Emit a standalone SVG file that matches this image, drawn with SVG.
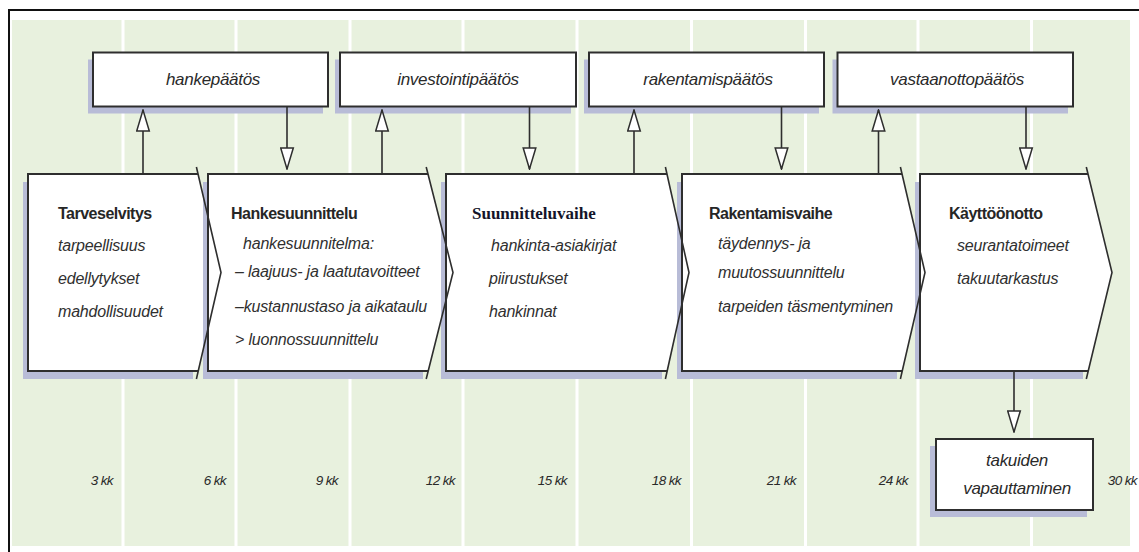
<svg xmlns="http://www.w3.org/2000/svg" width="1139" height="552" viewBox="0 0 1139 552">
  <defs>
    <marker id="hollow" viewBox="0 0 23 15" refX="22" refY="7.5" markerWidth="23" markerHeight="15" orient="auto" markerUnits="userSpaceOnUse">
      <path d="M1,1.2 L22,7.5 L1,13.8 Z" fill="#ffffff" stroke="#2e2e2e" stroke-width="1.5" stroke-linejoin="miter"/>
    </marker>
  </defs>
  <style>
    .bg { fill: #e8f1de; }
    .stripe { fill: #ffffff; }
    .frame { fill: none; stroke: #111111; stroke-width: 2; }
    .shadow { fill: #b8bcd7; }
    .box { fill: #ffffff; stroke: #2e2e2e; stroke-width: 2; }
    .fill { fill: #ffffff; }
    .edge { fill: none; stroke: #2e2e2e; stroke-width: 2; stroke-linejoin: miter; }
    .tipline { fill: none; stroke: #2e2e2e; stroke-width: 1.6; }
    .conn { fill: none; stroke: #2e2e2e; stroke-width: 1.6; marker-end: url(#hollow); }
    text { font-family: "Liberation Sans", Arial, sans-serif; fill: #262626; }
    .title { font-size: 16px; font-weight: bold; letter-spacing: -0.5px; }
    .serif { font-family: "Liberation Serif", "Times New Roman", serif; font-size: 17px; font-weight: bold; fill: #14142a; }
    .item { font-size: 16px; font-style: italic; letter-spacing: -0.2px; fill: #303030; }
    .dec { font-size: 17px; font-style: italic; text-anchor: middle; letter-spacing: -0.3px; fill: #2a2a2a; }
    .kk { font-size: 13.5px; font-style: italic; text-anchor: end; letter-spacing: -0.6px; fill: #2a2a2a; }
  </style>

  <!-- background panel with month columns -->
  <g id="timeline">
    <rect class="bg" x="12" y="20" width="1118" height="526"/>
    <rect class="stripe" x="121.5" y="20" width="3" height="526"/>
    <rect class="stripe" x="234.5" y="20" width="3" height="526"/>
    <rect class="stripe" x="348.5" y="20" width="3" height="526"/>
    <rect class="stripe" x="461.5" y="20" width="3" height="526"/>
    <rect class="stripe" x="575.5" y="20" width="3" height="526"/>
    <rect class="stripe" x="690" y="20" width="3" height="526"/>
    <rect class="stripe" x="804" y="20" width="3" height="526"/>
    <rect class="stripe" x="916.5" y="20" width="3" height="526"/>
    <rect class="stripe" x="1030" y="20" width="3" height="526"/>
    <path class="frame" d="M9,552 V10 H1139"/>
    <text class="kk" x="113" y="485">3 kk</text>
    <text class="kk" x="226" y="485">6 kk</text>
    <text class="kk" x="338" y="485">9 kk</text>
    <text class="kk" x="455" y="485">12 kk</text>
    <text class="kk" x="567" y="485">15 kk</text>
    <text class="kk" x="681" y="485">18 kk</text>
    <text class="kk" x="796" y="485">21 kk</text>
    <text class="kk" x="908" y="485">24 kk</text>
    <text class="kk" x="1137" y="485">30 kk</text>
  </g>

  <!-- decision boxes -->
  <g id="hankepaatos">
    <rect class="shadow" x="88" y="59.5" width="235" height="54"/>
    <rect class="box" x="93" y="52.5" width="235" height="54"/>
    <text class="dec" x="213" y="85">hankepäätös</text>
  </g>
  <g id="investointipaatos">
    <rect class="shadow" x="335" y="59.5" width="236" height="54"/>
    <rect class="box" x="340" y="52.5" width="236" height="54"/>
    <text class="dec" x="458" y="85">investointipäätös</text>
  </g>
  <g id="rakentamispaatos">
    <rect class="shadow" x="584" y="59.5" width="235" height="54"/>
    <rect class="box" x="589" y="52.5" width="235" height="54"/>
    <text class="dec" x="708" y="85">rakentamispäätös</text>
  </g>
  <g id="vastaanottopaatos">
    <rect class="shadow" x="832.5" y="59.5" width="235.5" height="54"/>
    <rect class="box" x="837.5" y="52.5" width="235.5" height="54"/>
    <text class="dec" x="957" y="85">vastaanottopäätös</text>
  </g>

  <!-- phase chevrons, drawn right to left so each tip stays on top of the next phase -->
  <g id="kayttoonotto">
    <rect class="shadow" x="915" y="182" width="168" height="197"/>
    <polygon class="fill" points="920,174 1088,174 1112,272.5 1088,371 920,371"/>
    <path class="edge" d="M1088,174 H920 V371 H1088"/>
    <polyline class="tipline" points="1086.3,167 1112,272.5 1086.3,379"/>
    <text class="title" x="949" y="219">Käyttöönotto</text>
    <text class="item" x="957" y="250.5">seurantatoimeet</text>
    <text class="item" x="957" y="283.5">takuutarkastus</text>
  </g>
  <g id="rakentamisvaihe">
    <rect class="shadow" x="677" y="182" width="220" height="197"/>
    <polygon class="fill" points="682,174 902,174 915,229.7 915,315.3 902,371 682,371"/>
    <path class="edge" d="M902,174 H682 V371 H902"/>
    <polyline class="tipline" points="900.4,167 925,272.5 900.4,379"/>
    <text class="title" x="709" y="219">Rakentamisvaihe</text>
    <text class="item" x="718" y="248.5">täydennys- ja</text>
    <text class="item" x="718" y="277.5">muutossuunnittelu</text>
    <text class="item" x="718" y="312">tarpeiden täsmentyminen</text>
  </g>
  <g id="suunnitteluvaihe">
    <rect class="shadow" x="441" y="182" width="221" height="197"/>
    <polygon class="fill" points="446,174 667,174 677,218.8 677,326.2 667,371 446,371"/>
    <path class="edge" d="M667,174 H446 V371 H667"/>
    <polyline class="tipline" points="665.4,167 689,272.5 665.4,379"/>
    <text class="serif" x="472" y="219">Suunnitteluvaihe</text>
    <text class="item" x="491" y="250.5">hankinta-asiakirjat</text>
    <text class="item" x="489" y="283.5">piirustukset</text>
    <text class="item" x="489" y="317">hankinnat</text>
  </g>
  <g id="hankesuunnittelu">
    <rect class="shadow" x="203" y="182" width="220" height="197"/>
    <polygon class="fill" points="208,174 428,174 441,225.2 441,319.8 428,371 208,371"/>
    <path class="edge" d="M428,174 H208 V371 H428"/>
    <polyline class="tipline" points="426.2,167 453,272.5 426.2,379"/>
    <text class="title" x="231" y="219">Hankesuunnittelu</text>
    <text class="item" x="243" y="249">hankesuunnitelma:</text>
    <text class="item" x="235" y="277">– laajuus- ja laatutavoitteet</text>
    <text class="item" x="235" y="312">–kustannustaso ja aikataulu</text>
    <text class="item" x="235" y="344.5">&gt; luonnossuunnittelu</text>
  </g>
  <g id="tarveselvitys">
    <rect class="shadow" x="23" y="182" width="170" height="197"/>
    <polygon class="fill" points="28,174 198,174 203,195.4 203,349.6 198,371 28,371"/>
    <path class="edge" d="M198,174 H28 V371 H198"/>
    <polyline class="tipline" points="196.4,167 221,272.5 196.4,379"/>
    <text class="title" x="58" y="219">Tarveselvitys</text>
    <text class="item" x="58" y="250.5">tarpeellisuus</text>
    <text class="item" x="58" y="283.5">edellytykset</text>
    <text class="item" x="58" y="317">mahdollisuudet</text>
  </g>

  <!-- final step below the commissioning phase -->
  <g id="takuiden-vapauttaminen">
    <rect class="shadow" x="930" y="446" width="157" height="71"/>
    <rect class="box" x="936" y="439" width="157" height="71"/>
    <text class="dec" x="1017" y="466">takuiden</text>
    <text class="dec" x="1017" y="494">vapauttaminen</text>
  </g>

  <!-- connectors: phase to decision (up) and decision to next phase (down) -->
  <g id="connectors">
    <line class="conn" x1="143" y1="174" x2="143" y2="110"/>
    <line class="conn" x1="287" y1="106.5" x2="287" y2="169"/>
    <line class="conn" x1="382" y1="174" x2="382" y2="110"/>
    <line class="conn" x1="529.5" y1="106.5" x2="529.5" y2="169"/>
    <line class="conn" x1="634" y1="174" x2="634" y2="110"/>
    <line class="conn" x1="781.5" y1="106.5" x2="781.5" y2="169"/>
    <line class="conn" x1="878.5" y1="174" x2="878.5" y2="110"/>
    <line class="conn" x1="1026" y1="106.5" x2="1026" y2="169"/>
    <line class="conn" x1="1014" y1="371" x2="1014" y2="432"/>
  </g>
</svg>
